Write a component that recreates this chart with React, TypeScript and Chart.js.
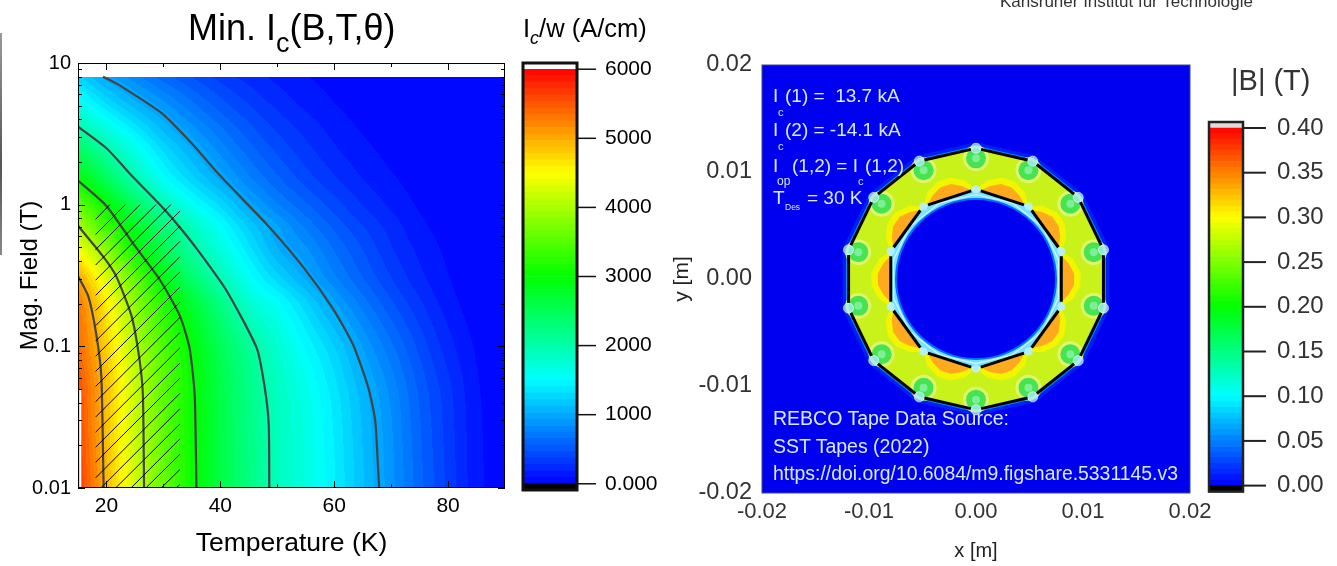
import React, { useEffect, useRef } from "react";
import { Chart, registerables } from "chart.js";

Chart.register(...registerables);

const FONT = "'Liberation Sans', Arial, sans-serif";

// ---------- left map: Ic/w (A/cm) against T and B ----------
const tempColumns = [15, 20, 25, 30, 35, 40, 45, 50, 55, 60, 65, 70, 75, 80, 85, 90];
const fieldRows = [0.01, 0.03, 0.05, 0.1, 0.2, 0.3, 0.5, 0.7, 1, 1.5, 2.5, 3.55, 5, 8];
const icRow001 = [5700, 4930, 4230, 3600, 3070, 2620, 2260, 1900, 1680, 1420, 1140, 880, 600, 350, 130, 30];
const icRow003 = [5600, 4860, 4180, 3560, 3050, 2610, 2230, 1890, 1660, 1390, 1110, 850, 570, 330, 120, 20];
const icRow005 = [5550, 4880, 4180, 3540, 3040, 2590, 2210, 1870, 1620, 1350, 1070, 810, 540, 310, 110, 15];
const icRow01 = [5400, 4760, 4050, 3450, 2960, 2500, 2110, 1770, 1480, 1220, 930, 680, 440, 230, 80, 10];
const icRow02 = [5300, 4580, 3820, 3200, 2710, 2240, 1790, 1540, 1250, 960, 710, 490, 300, 140, 40, 5];
const icRow03 = [5050, 4300, 3560, 2910, 2390, 1950, 1570, 1270, 1020, 780, 570, 380, 220, 100, 30, 0];
const icRow05 = [4400, 3760, 3030, 2530, 2040, 1690, 1340, 1030, 850, 640, 460, 290, 160, 70, 15, 0];
const icRow07 = [4000, 3340, 2800, 2320, 1880, 1530, 1200, 950, 730, 540, 380, 240, 120, 50, 10, 0];
const icRow1 = [3600, 3000, 2460, 1960, 1570, 1290, 990, 760, 580, 420, 280, 170, 80, 30, 5, 0];
const icRow15 = [3000, 2500, 1990, 1560, 1270, 1020, 780, 590, 430, 300, 190, 110, 50, 15, 0, 0];
const icRow25 = [2450, 2000, 1620, 1280, 1030, 800, 600, 440, 310, 200, 120, 60, 20, 5, 0, 0];
const icRow355 = [2000, 1650, 1350, 1080, 860, 660, 490, 350, 240, 150, 80, 35, 10, 0, 0, 0];
const icRow5 = [1650, 1340, 1090, 890, 690, 520, 380, 260, 170, 100, 50, 20, 5, 0, 0, 0];
const icRow8 = [1250, 980, 790, 610, 470, 340, 240, 160, 100, 55, 25, 10, 0, 0, 0, 0];
const icGrid = [icRow001, icRow003, icRow005, icRow01, icRow02, icRow03, icRow05, icRow07, icRow1, icRow15, icRow25, icRow355, icRow5, icRow8];

const contour1000 = [[19.4, 8], [22.3, 6.95], [29.9, 4.36], [35.2, 2.65], [39.9, 1.61], [48.1, 0.73], [54.6, 0.361], [59.8, 0.184], [63.3, 0.103], [66, 0.051], [67.2, 0.03], [67.7, 0.014], [67.9, 0.01]];
const contour2000 = [[15, 3.55], [20, 2.5], [24.7, 1.56], [29.9, 0.95], [32.9, 0.69], [36.4, 0.457], [41.1, 0.247], [46.4, 0.097], [47.8, 0.051], [48.5, 0.028], [48.6, 0.01]];
const contour3000 = [[15, 1.48], [20, 0.98], [24.7, 0.53], [29.4, 0.294], [32.9, 0.164], [34.6, 0.097], [35.5, 0.045], [35.8, 0.01]];
const contour4000 = [[15, 0.71], [19.4, 0.431], [21.7, 0.313], [24.4, 0.164], [25.8, 0.081], [26.4, 0.045], [26.6, 0.01]];
const contour5000 = [[15, 0.313], [16.8, 0.226], [18.2, 0.122], [19.1, 0.061], [19.5, 0.01]];
const contours = [contour1000, contour2000, contour3000, contour4000, contour5000];

const hatchLines = [
  [[18.1, 0.788], [20.6, 1]], [[18.1, 0.616], [23.3, 1]], [[18.1, 0.482], [25.9, 1]], [[18.1, 0.375], [28.7, 1]], [[18.1, 0.293], [31.3, 1]],
  [[18.1, 0.229], [32.9, 0.901]], [[18.1, 0.179], [32.9, 0.705]], [[18.1, 0.14], [32.9, 0.551]], [[18.1, 0.109], [32.9, 0.429]],
  [[18.1, 0.0852], [32.9, 0.335]], [[18.1, 0.0666], [32.9, 0.262]], [[18.1, 0.0521], [32.9, 0.205]], [[18.1, 0.0407], [32.9, 0.16]],
  [[18.1, 0.0317], [32.9, 0.125]], [[18.1, 0.0248], [32.9, 0.0975]], [[18.1, 0.0194], [32.9, 0.0762]], [[18.1, 0.0152], [32.9, 0.0596]],
  [[18.1, 0.0118], [32.9, 0.0466]], [[19.0, 0.01], [32.9, 0.0362]], [[21.6, 0.01], [32.9, 0.0283]], [[24.3, 0.01], [32.9, 0.0222]],
  [[26.9, 0.01], [32.9, 0.0173]], [[29.6, 0.01], [32.9, 0.0135]], [[32.2, 0.01], [32.9, 0.0106]],
];
const whiteSliver = [[15.4, 0.05], [15.4, 0.01]];

const tempTicks = [20, 40, 60, 80];
const tempMinorTicks = [30, 50, 70];
const fieldTicks = [0.01, 0.1, 1, 10];
const fieldMinorTicks = [0.02, 0.03, 0.04, 0.05, 0.06, 0.07, 0.08, 0.09, 0.2, 0.3, 0.4, 0.5, 0.6, 0.7, 0.8, 0.9, 2, 3, 4, 5, 6, 7, 8, 9];
const icBarTicks = [0, 1000, 2000, 3000, 4000, 5000, 6000];
const bBarTicks = [0, 0.05, 0.1, 0.15, 0.2, 0.25, 0.3, 0.35, 0.4];
const posTicks = [-0.02, -0.01, 0, 0.01, 0.02];

// ---------- right map: cross-section geometry in metres ----------
const outerVertices = [[0, 0.01222], [0.0053, 0.01101], [0.00955, 0.00762], [0.01191, 0.00272], [0.01191, -0.00272], [0.00955, -0.00762], [0.0053, -0.01101], [0, -0.01222], [-0.0053, -0.01101], [-0.00955, -0.00762], [-0.01191, -0.00272], [-0.01191, 0.00272], [-0.00955, 0.00762], [-0.0053, 0.01101]];
const innerVertices = [[0, 0.00838], [0.00493, 0.00678], [0.00797, 0.00259], [0.00797, -0.00259], [0.00493, -0.00678], [0, -0.00838], [-0.00493, -0.00678], [-0.00797, -0.00259], [-0.00797, 0.00259], [-0.00493, 0.00678]];
const greenDots = [[0, 0.01128], [0.0049, 0.01016], [0.00882, 0.00703], [0.011, 0.00251], [0.011, -0.00251], [0.00882, -0.00703], [0.0049, -0.01016], [0, -0.01128], [-0.0049, -0.01016], [-0.00882, -0.00703], [-0.011, -0.00251], [-0.011, 0.00251], [-0.00882, 0.00703], [-0.0049, 0.01016]];
const wigglyRing = [[0, 0.0079], [0.0034, 0.0071], [0.0062, 0.0049], [0.0077, 0.0018], [0.0077, -0.0018], [0.0062, -0.0049], [0.0034, -0.0071], [0, -0.0079], [-0.0034, -0.0071], [-0.0062, -0.0049], [-0.0077, -0.0018], [-0.0077, 0.0018], [-0.0062, 0.0049], [-0.0034, 0.0071], [0, 0.0079]];
const lobeOrange = [[0.08, 0], [0.22, 0.0007], [0.4, 0.0012], [0.6, 0.0012], [0.78, 0.0007], [0.92, 0]];
const lobeYellow = [[0, 0], [0.14, 0.0011], [0.38, 0.0018], [0.62, 0.0018], [0.86, 0.0011], [1, 0]];

// ---------- colour scale ----------
const colourStops = [[0, 0, 255], [0, 255, 255], [0, 255, 0], [255, 255, 0], [255, 0, 0]];
const BAND_COUNT = 64;
const IC_MAX = 6000;
const B_MAX = 0.4;

function ramp(t: number) {
  const p = Math.min(Math.max(t, 0), 1) * (colourStops.length - 1);
  const i = Math.min(Math.floor(p), colourStops.length - 2);
  const f = p - i;
  return colourStops[i].map((c, k) => Math.round(c + (colourStops[i + 1][k] - c) * f));
}
const bandColour = (t: number) => {
  const lvl = Math.min(Math.floor(t * BAND_COUNT), BAND_COUNT - 1);
  return ramp((lvl + 0.5) / BAND_COUNT);
};

const toPts = (a: number[][]) => a.map(([x, y]) => ({ x, y }));
const closed = (a: number[][]) => toPts([...a, a[0]]);

const rowLogs = fieldRows.map((b) => Math.log10(b));
function hermite(xs: number[], ys: number[], i: number, x: number) {
  const n = xs.length;
  const h = xs[i + 1] - xs[i];
  const m0 = i > 0 ? (ys[i + 1] - ys[i - 1]) / (xs[i + 1] - xs[i - 1]) : (ys[i + 1] - ys[i]) / h;
  const m1 = i < n - 2 ? (ys[i + 2] - ys[i]) / (xs[i + 2] - xs[i]) : (ys[i + 1] - ys[i]) / h;
  const s = (x - xs[i]) / h;
  const s2 = s * s, s3 = s2 * s;
  return (2 * s3 - 3 * s2 + 1) * ys[i] + (s3 - 2 * s2 + s) * h * m0 + (-2 * s3 + 3 * s2) * ys[i + 1] + (s3 - s2) * h * m1;
}
function smoothIc(t: number, b: number) {
  const lb = Math.log10(b);
  let r = 0;
  while (r < rowLogs.length - 2 && rowLogs[r + 1] < lb) r++;
  let c = 0;
  while (c < tempColumns.length - 2 && tempColumns[c + 1] < t) c++;
  const column = icGrid.map((row) => hermite(tempColumns, row, c, t));
  return Math.max(0, hermite(rowLogs, column, r, lb));
}

const heatPlugin = {
  id: "heat",
  beforeDatasetsDraw(chart: any) {
    const { left, top, width, height } = chart.chartArea;
    const x = chart.scales.x, y = chart.scales.y;
    const w = Math.round(width), h = Math.round(height);
    const off = document.createElement("canvas");
    off.width = w; off.height = h;
    const octx = off.getContext("2d")!;
    const img = octx.createImageData(w, h);
    for (let j = 0; j < h; j++) {
      const b = y.getValueForPixel(top + j + 0.5);
      for (let i = 0; i < w; i++) {
        const k = (j * w + i) * 4;
        if (b > 8) { img.data[k] = img.data[k + 1] = img.data[k + 2] = 255; img.data[k + 3] = 255; continue; }
        const t = x.getValueForPixel(left + i + 0.5);
        const col = bandColour(smoothIc(t, b) / IC_MAX);
        img.data[k] = col[0]; img.data[k + 1] = col[1]; img.data[k + 2] = col[2]; img.data[k + 3] = 255;
      }
    }
    octx.putImageData(img, 0, 0);
    chart.ctx.drawImage(off, left, top);
  },
};

const frameTicksPlugin = {
  id: "frameTicks",
  afterDraw(chart: any) {
    const { ctx, chartArea: a, scales } = chart;
    ctx.save();
    ctx.strokeStyle = "#000";
    ctx.lineWidth = 1;
    const line = (x1: number, y1: number, x2: number, y2: number) => { ctx.beginPath(); ctx.moveTo(x1, y1); ctx.lineTo(x2, y2); ctx.stroke(); };
    const doX = (v: number, l: number) => { const p = Math.round(scales.x.getPixelForValue(v)) + 0.5; line(p, a.bottom, p, a.bottom - l); line(p, a.top, p, a.top + l); };
    const doY = (v: number, l: number) => { const p = Math.round(scales.y.getPixelForValue(v)) + 0.5; line(a.left, p, a.left + l, p); line(a.right, p, a.right - l, p); };
    tempTicks.forEach((v) => doX(v, 7));
    tempMinorTicks.forEach((v) => doX(v, 4));
    fieldTicks.forEach((v) => doY(v, 7));
    fieldMinorTicks.forEach((v) => doY(v, 4));
    ctx.strokeRect(a.left + 0.5, a.top + 0.5, a.width - 1, a.height - 1);
    ctx.restore();
  },
};

const barFramePlugin = (colour: string, lw: number, tickEnd: number, values: number[], tickWidth: number) => ({
  id: "barFrame",
  afterDraw(chart: any) {
    const { ctx, chartArea: a, scales } = chart;
    ctx.save();
    ctx.strokeStyle = colour;
    ctx.lineWidth = tickWidth;
    values.forEach((v) => {
      const p = scales.y.getPixelForValue(v);
      ctx.beginPath(); ctx.moveTo(a.right, p); ctx.lineTo(tickEnd, p); ctx.stroke();
    });
    ctx.lineWidth = lw;
    ctx.strokeRect(a.left, a.top, a.width, a.height);
    ctx.restore();
  },
});

const rightBgPlugin = {
  id: "rightBg",
  beforeDatasetsDraw(chart: any) {
    const { ctx, chartArea: a } = chart;
    ctx.save();
    ctx.fillStyle = "rgb(0,0,240)";
    ctx.fillRect(a.left, a.top, a.width, a.height);
    ctx.restore();
  },
  afterDraw(chart: any) {
    const { ctx, chartArea: a } = chart;
    ctx.save();
    ctx.strokeStyle = "#3a4a80";
    ctx.lineWidth = 1;
    ctx.strokeRect(a.left, a.top, a.width, a.height);
    ctx.restore();
  },
};

function fixedAxis(size: number, horizontal: boolean) {
  return (s: any) => { if (horizontal) s.height = size; else s.width = size; };
}
const useTicks = (vals: number[]) => (s: any) => { s.ticks = vals.map((value) => ({ value })); };
const noGrid = { display: false, drawTicks: false };

function lobe(a: number[], b: number[], shape: number[][]) {
  const dx = b[0] - a[0], dy = b[1] - a[1];
  const len = Math.hypot(dx, dy);
  let nx = dy / len, ny = -dx / len;
  const mx = (a[0] + b[0]) / 2, my = (a[1] + b[1]) / 2;
  if (nx * mx + ny * my < 0) { nx = -nx; ny = -ny; }
  return shape.map(([t, h]) => [a[0] + dx * t + nx * h, a[1] + dy * t + ny * h]);
}
function trim(a: number[], b: number[], f: number) {
  return [[a[0] + (b[0] - a[0]) * f, a[1] + (b[1] - a[1]) * f], [b[0] - (b[0] - a[0]) * f, b[1] - (b[1] - a[1]) * f]];
}

function bandDatasets(max: number) {
  const out: any[] = [];
  for (let i = 0; i < BAND_COUNT; i++) {
    const c = ramp((i + 0.5) / BAND_COUNT);
    out.push({ data: [[(i / BAND_COUNT) * max, ((i + 1) / BAND_COUNT) * max]], backgroundColor: `rgb(${c[0]},${c[1]},${c[2]})`, grouped: false, barPercentage: 1, categoryPercentage: 1, borderWidth: 0 });
  }
  return out;
}

const W = 1337, H = 566;
const baseOptions = { responsive: false, animation: false as const, events: [] as string[], plugins: { legend: { display: false }, tooltip: { enabled: false } } };
const tickFont = (size: number) => ({ family: FONT, size });

function makeLeftMap(canvas: HTMLCanvasElement) {
  const lines: any[] = [];
  hatchLines.forEach((h) => lines.push({ data: toPts(h), borderColor: "#000", borderWidth: 1, pointRadius: 0, tension: 0 }));
  contours.forEach((c) => lines.push({ data: toPts(c), borderColor: "#444", borderWidth: 2.2, pointRadius: 0, tension: 0.2 }));
  lines.push({ data: toPts(whiteSliver), borderColor: "#fff", borderWidth: 2, pointRadius: 0, tension: 0 });
  return new Chart(canvas, {
    type: "line",
    data: { datasets: lines },
    plugins: [heatPlugin, frameTicksPlugin],
    options: {
      ...baseOptions,
      layout: { padding: { left: 16, top: 63, right: W - 505, bottom: 6 } },
      scales: {
        x: { type: "linear", min: 15, max: 90, afterFit: fixedAxis(72, true), afterBuildTicks: useTicks(tempTicks), grid: noGrid, border: { display: false },
          ticks: { font: tickFont(21), color: "#000", padding: 6, maxRotation: 0, autoSkip: false },
          title: { display: true, text: "Temperature (K)", font: tickFont(26.5), color: "#000", padding: 0 } },
        y: { type: "logarithmic", min: 0.01, max: 10, afterFit: fixedAxis(62, false), afterBuildTicks: useTicks(fieldTicks), grid: noGrid, border: { display: false },
          ticks: { font: tickFont(20), color: "#000", padding: 7, autoSkip: false, callback: (v: any) => String(v) },
          title: { display: true, text: "Mag. Field (T)", font: tickFont(24), color: "#000", padding: 0 } },
      },
    } as any,
  });
}

function makeBar(canvas: HTMLCanvasElement, opt: any) {
  const datasets = [
    { data: [[opt.min, 0]], backgroundColor: opt.under, grouped: false, barPercentage: 1, categoryPercentage: 1, borderWidth: 0 },
    ...bandDatasets(opt.maxValue),
    { data: [[opt.maxValue, opt.max]], backgroundColor: opt.over, grouped: false, barPercentage: 1, categoryPercentage: 1, borderWidth: 0 },
  ];
  return new Chart(canvas, {
    type: "bar",
    data: { labels: ["scale"], datasets },
    plugins: [barFramePlugin(opt.frame, opt.lw, opt.tickEnd, opt.ticks, opt.tickWidth)],
    options: {
      ...baseOptions,
      layout: { padding: { left: opt.left, top: opt.top, right: 0, bottom: H - opt.bottom } },
      scales: {
        x: { display: false },
        y: { position: "right", min: opt.min, max: opt.max, afterFit: fixedAxis(W - opt.right, false), afterBuildTicks: useTicks(opt.ticks), grid: noGrid, border: { display: false },
          ticks: { font: tickFont(opt.fontSize), color: opt.text, padding: opt.labelGap, autoSkip: false, callback: opt.format } },
      },
    } as any,
  });
}

function makeRightMap(canvas: HTMLCanvasElement) {
  const layers: any[] = [];
  const poly = (pts: any[], o: any) => layers.push({ data: pts, pointRadius: 0, tension: 0, borderWidth: 0, ...o });
  const outerC = closed(outerVertices);
  const innerC = closed(innerVertices);
  poly(outerC, { borderColor: "rgba(0,90,255,0.35)", borderWidth: 12, fill: false });
  poly(outerC, { borderColor: "rgba(0,190,255,0.75)", borderWidth: 5, fill: false });
  poly(outerC, { borderColor: "rgba(190,245,255,0.9)", borderWidth: 2, backgroundColor: "rgb(200,242,25)", fill: "shape" });
  innerVertices.forEach((v, i) => {
    const n = innerVertices[(i + 1) % innerVertices.length];
    poly(closed(lobe(v, n, lobeYellow)), { backgroundColor: "rgb(242,245,0)", fill: "shape" });
  });
  innerVertices.forEach((v, i) => {
    const n = innerVertices[(i + 1) % innerVertices.length];
    poly(closed(lobe(v, n, lobeOrange)), { backgroundColor: "rgb(255,170,30)", fill: "shape" });
  });
  poly(innerC, { backgroundColor: "rgb(120,225,255)", fill: "shape", borderColor: "rgba(170,240,255,0.9)", borderWidth: 2 });
  layers.push({ data: [{ x: 0, y: 0 }], showLine: false, pointRadius: 80, pointBackgroundColor: "rgb(0,0,240)", pointBorderColor: "rgb(0,110,255)", pointBorderWidth: 2 });
  poly(toPts(wigglyRing), { borderColor: "rgba(220,250,255,0.9)", borderWidth: 1.2, fill: false });
  layers.push({ data: toPts(greenDots), showLine: false, pointRadius: 13, pointBackgroundColor: "rgba(225,245,120,0.9)", pointBorderWidth: 0 });
  layers.push({ data: toPts(greenDots), showLine: false, pointRadius: 10, pointBackgroundColor: "rgb(70,228,80)", pointBorderWidth: 0 });
  layers.push({ data: toPts(greenDots), showLine: false, pointRadius: 4, pointBackgroundColor: "rgba(140,240,170,0.8)", pointBorderWidth: 0 });
  layers.push({ data: toPts(outerVertices), showLine: false, pointRadius: 5, pointBackgroundColor: "rgba(170,235,255,0.75)", pointBorderColor: "rgba(235,250,255,0.7)", pointBorderWidth: 1 });
  layers.push({ data: toPts(innerVertices), showLine: false, pointRadius: 4, pointBackgroundColor: "rgba(185,240,255,0.85)", pointBorderWidth: 0 });
  const seg = (vs: number[][], f: number) => vs.forEach((v, i) => {
    const n = vs[(i + 1) % vs.length];
    layers.push({ data: toPts(trim(v, n, f)), borderColor: "#000", borderWidth: 3, pointRadius: 0, tension: 0, fill: false });
  });
  seg(outerVertices, 0.09);
  seg(innerVertices, 0.09);
  layers.forEach((l, i) => { l.order = layers.length - i; });
  return new Chart(canvas, {
    type: "line",
    data: { datasets: layers },
    plugins: [rightBgPlugin],
    options: {
      ...baseOptions,
      layout: { autoPadding: false, padding: { left: 670, top: 65, right: W - 1190, bottom: 3 } },
      scales: {
        x: { type: "linear", min: -0.02, max: 0.02, afterFit: fixedAxis(70, true), afterBuildTicks: useTicks(posTicks), grid: noGrid, border: { display: false },
          ticks: { font: tickFont(22), color: "#333", padding: 6, maxRotation: 0, autoSkip: false, callback: (v: any) => Number(v).toFixed(2) },
          title: { display: true, text: "x [m]", font: tickFont(20), color: "#222", padding: 0 } },
        y: { type: "linear", min: -0.02, max: 0.02, afterFit: fixedAxis(92, false), afterBuildTicks: useTicks(posTicks), grid: noGrid, border: { display: false },
          ticks: { font: tickFont(23.5), color: "#333", padding: 10, autoSkip: false, callback: (v: any) => Number(v).toFixed(2) },
          title: { display: true, text: "y [m]", font: tickFont(21), color: "#222", padding: 0 } },
      },
    } as any,
  });
}

const Txt = ({ x, y, size, color = "#000", children }: any) => (
  <div style={{ position: "absolute", left: x, top: y, transform: "translateY(-50%)", fontFamily: FONT, fontSize: size, color, whiteSpace: "pre", lineHeight: 1 }}>{children}</div>
);
const Sub = ({ size, drop, children }: any) => (
  <span style={{ fontSize: size, position: "relative", top: drop }}>{children}</span>
);

const ANN = "rgb(215,232,255)";

export default function App() {
  const left = useRef<HTMLCanvasElement>(null);
  const leftBar = useRef<HTMLCanvasElement>(null);
  const right = useRef<HTMLCanvasElement>(null);
  const rightBar = useRef<HTMLCanvasElement>(null);

  useEffect(() => {
    const charts = [
      makeLeftMap(left.current!),
      makeBar(leftBar.current!, { min: -90, max: 6090, maxValue: IC_MAX, under: "#000", over: "#fff", frame: "#111", lw: 3, left: 523, right: 577, top: 63, bottom: 490, tickEnd: 596, tickWidth: 1.5, ticks: icBarTicks, fontSize: 21, text: "#000", labelGap: 28, format: (v: any) => (v === 0 ? "0.000" : String(v)) }),
      makeRightMap(right.current!),
      makeBar(rightBar.current!, { min: -0.0067, max: 0.4067, maxValue: B_MAX, under: "#000", over: "#ddd", frame: "#222", lw: 2.5, left: 1209, right: 1243, top: 122, bottom: 491.6, tickEnd: 1266, tickWidth: 2, ticks: bBarTicks, fontSize: 24, text: "#333", labelGap: 34, format: (v: any) => Number(v).toFixed(2) }),
    ];
    return () => charts.forEach((c) => c.destroy());
  }, []);

  const cv: React.CSSProperties = { position: "absolute", left: 0, top: 0, width: W, height: H };
  return (
    <div style={{ position: "fixed", left: 0, top: 0, width: W, height: H, background: "#fff", overflow: "hidden" }}>
      <div style={{ position: "absolute", left: 0, top: 33, width: 2, height: 222, background: "linear-gradient(#999,#555 60%,#888)" }} />
      <canvas ref={left} width={W} height={H} style={cv} />
      <canvas ref={leftBar} width={W} height={H} style={cv} />
      <Txt x={188} y={28} size={36}>Min. I<Sub size={27} drop={12}>c</Sub>(B,T,θ)</Txt>
      <Txt x={523} y={29} size={25.5}>I<Sub size={18} drop={7}><i>c</i></Sub>/w (A/cm)</Txt>
      <div style={{ position: "absolute", left: 0, top: 0, width: W, height: H, filter: "blur(0.5px)" }}>
        <canvas ref={right} width={W} height={H} style={cv} />
        <canvas ref={rightBar} width={W} height={H} style={cv} />
        <Txt x={1000} y={1} size={17} color="#333">Karlsruher Institut für Technologie</Txt>
        <Txt x={1231} y={80} size={29} color="#333">|B| (T)</Txt>
        <Txt x={773} y={95} size={19} color={ANN}>I</Txt>
        <Txt x={785} y={95} size={19} color={ANN}>(1) =  13.7 kA</Txt>
        <Txt x={778} y={112} size={11} color={ANN}>c</Txt>
        <Txt x={773} y={129} size={19} color={ANN}>I</Txt>
        <Txt x={785} y={129} size={19} color={ANN}>(2) = -14.1 kA</Txt>
        <Txt x={778} y={146} size={11} color={ANN}>c</Txt>
        <Txt x={773} y={165} size={19} color={ANN}>I</Txt>
        <Txt x={792} y={165} size={19} color={ANN}>(1,2) = I</Txt>
        <Txt x={865} y={165} size={19} color={ANN}>(1,2)</Txt>
        <Txt x={777} y={181} size={12} color={ANN}>op</Txt>
        <Txt x={858} y={181} size={11} color={ANN}>c</Txt>
        <Txt x={773} y={197} size={19} color={ANN}>T</Txt>
        <Txt x={785} y={207} size={8.5} color={ANN}>Des</Txt>
        <Txt x={807} y={197} size={19} color={ANN}>= 30 K</Txt>
        <Txt x={773} y={419} size={19.5} color={ANN}>REBCO Tape Data Source:</Txt>
        <Txt x={773} y={447} size={19.5} color={ANN}>SST Tapes (2022)</Txt>
        <Txt x={773} y={474} size={19.4} color={ANN}>https://doi.org/10.6084/m9.figshare.5331145.v3</Txt>
      </div>
    </div>
  );
}
